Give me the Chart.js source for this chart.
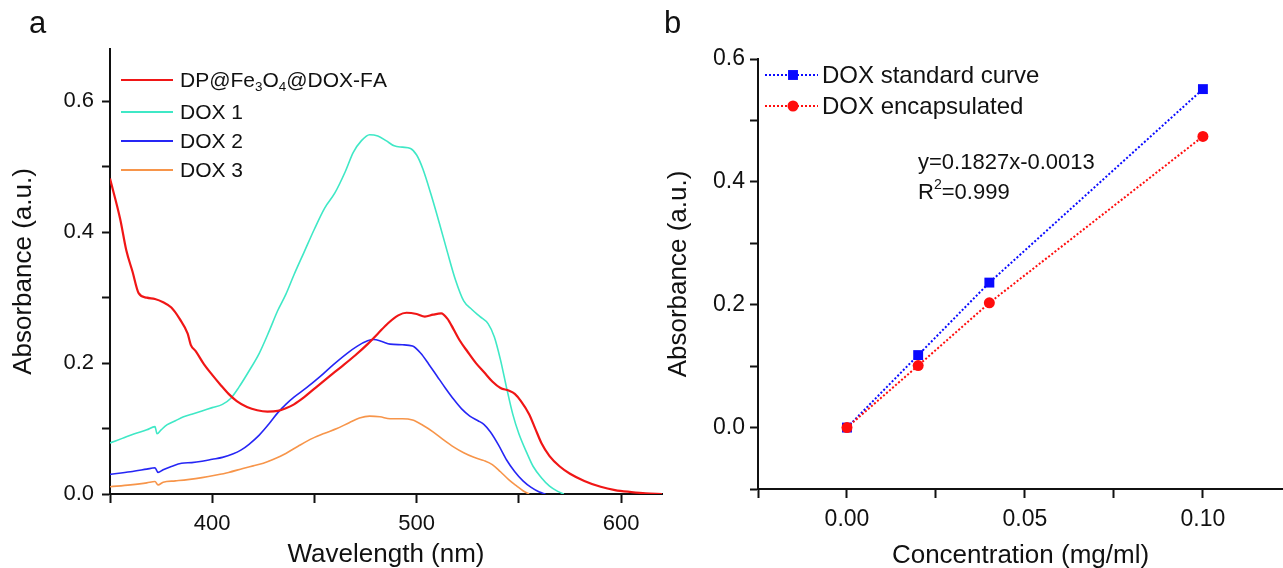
<!DOCTYPE html>
<html>
<head>
<meta charset="utf-8">
<script src="https://cdn.jsdelivr.net/npm/chart.js@4.4.1/dist/chart.umd.min.js"></script>
<style>
    html, body { margin: 0; padding: 0; background: #fff; }
    body { width: 1283px; height: 568px; position: relative; overflow: hidden; }
    .panel { position: absolute; top: 0; height: 568px; }
    #panelA { left: 0; width: 680px; }
    #panelB { left: 640px; width: 650px; }
</style>
</head>
<body>
<div class="panel" id="panelA"><canvas id="chartA"></canvas></div>
<div class="panel" id="panelB"><canvas id="chartB"></canvas></div>
<script>
// ---- panel a: UV-vis spectra ----
const seriesNamesA = ['DP@Fe_3O_4@DOX-FA', 'DOX 1', 'DOX 2', 'DOX 3'];
const seriesColorsA = ['#f01616', '#3fe8c6', '#2626f5', '#f7954a'];

const wlFA = [350, 355, 358, 361, 364, 368, 372, 376, 380, 384, 388, 389.5, 392, 396, 400, 404, 408, 412, 417, 422, 427, 432, 436, 440, 445, 450, 457, 463, 470, 476, 481, 486, 491, 495, 500, 504, 508, 512, 515, 518, 521, 525, 529, 533, 537, 541, 545, 548, 551, 555, 558, 561, 565, 570, 575, 582, 590, 597, 605, 612, 620];
const absFA = [0.482, 0.420, 0.372, 0.340, 0.307, 0.300, 0.298, 0.293, 0.285, 0.268, 0.245, 0.228, 0.218, 0.198, 0.182, 0.167, 0.153, 0.142, 0.133, 0.128, 0.126, 0.127, 0.131, 0.137, 0.148, 0.161, 0.179, 0.194, 0.212, 0.229, 0.245, 0.261, 0.273, 0.277, 0.275, 0.271, 0.274, 0.276, 0.268, 0.252, 0.235, 0.217, 0.200, 0.186, 0.172, 0.162, 0.158, 0.153, 0.142, 0.122, 0.100, 0.078, 0.058, 0.042, 0.031, 0.020, 0.011, 0.006, 0.003, 0.001, 0.000];

const wlDox1 = [350, 356, 362, 368, 372, 373, 375, 378, 382, 386, 390, 395, 400, 405, 409, 413, 418, 423, 428, 432, 436, 440, 445, 450, 455, 460, 465, 469, 473, 477, 481, 485, 489, 493, 497, 500, 503, 507, 511, 515, 519, 523, 527, 531, 535, 538, 541, 544, 547, 550, 554, 557, 561, 565, 569, 572];
const absDox1 = [0.078, 0.085, 0.092, 0.098, 0.103, 0.092, 0.098, 0.106, 0.112, 0.118, 0.122, 0.127, 0.132, 0.137, 0.146, 0.163, 0.188, 0.215, 0.250, 0.280, 0.305, 0.335, 0.370, 0.405, 0.437, 0.460, 0.492, 0.522, 0.540, 0.549, 0.547, 0.540, 0.532, 0.530, 0.528, 0.518, 0.497, 0.458, 0.415, 0.370, 0.327, 0.295, 0.282, 0.271, 0.260, 0.240, 0.205, 0.162, 0.122, 0.092, 0.062, 0.042, 0.025, 0.012, 0.004, 0.000];

const wlDox2 = [350, 360, 368, 372, 373.5, 376, 380, 385, 390, 395, 400, 405, 410, 414, 418, 423, 428, 432, 436, 440, 446, 453, 459, 466, 471, 476, 479, 483, 487, 493, 498, 502, 506, 510, 514, 518, 522, 526, 530, 533, 536, 540, 544, 548, 552, 556, 560, 563];
const absDox2 = [0.030, 0.034, 0.038, 0.040, 0.033, 0.037, 0.042, 0.047, 0.048, 0.050, 0.053, 0.056, 0.061, 0.067, 0.076, 0.090, 0.108, 0.124, 0.137, 0.148, 0.162, 0.180, 0.197, 0.215, 0.226, 0.234, 0.236, 0.233, 0.229, 0.228, 0.226, 0.215, 0.198, 0.180, 0.162, 0.145, 0.130, 0.119, 0.112, 0.106, 0.095, 0.075, 0.052, 0.034, 0.020, 0.010, 0.003, 0.000];

const wlDox3 = [350, 360, 368, 372, 373.5, 376, 382, 388, 395, 402, 408, 415, 420, 425, 430, 436, 442, 449, 455, 461, 467, 472, 477, 482, 487, 493, 498, 503, 508, 513, 518, 523, 528, 533, 537, 541, 545, 549, 552, 555];
const absDox3 = [0.011, 0.014, 0.017, 0.019, 0.014, 0.018, 0.020, 0.022, 0.025, 0.029, 0.033, 0.039, 0.043, 0.047, 0.053, 0.062, 0.073, 0.085, 0.093, 0.100, 0.109, 0.116, 0.119, 0.118, 0.115, 0.115, 0.113, 0.105, 0.095, 0.083, 0.072, 0.063, 0.056, 0.051, 0.045, 0.034, 0.022, 0.012, 0.005, 0.000];

// ---- panel b: calibration ----
const seriesNamesB = ['DOX standard curve', 'DOX encapsulated'];
const seriesColorsB = ['#0a0aff', '#ff0d0d'];
const concStd = [0, 0.02, 0.04, 0.1];
const absStd = [0, 0.118, 0.236, 0.551];
const concEnc = [0, 0.02, 0.04, 0.1];
const absEnc = [0, 0.101, 0.203, 0.474];
const fitText = ['y=0.1827x-0.0013', 'R^2=0.999'];

const FONT = '"Liberation Sans", Arial, sans-serif';

function toPoints(xs, ys) {
    return xs.map((x, i) => ({ x: x, y: ys[i] }));
}

function isMajor(v, step) {
    const r = v / step;
    return Math.abs(r - Math.round(r)) < 1e-6;
}

// draws text with _x subscripts and ^x superscripts
function drawRich(ctx, text, x, y, size) {
    let cx = x;
    for (let i = 0; i < text.length; i++) {
        let ch = text[i];
        let dy = 0, sz = size;
        if ((ch === '_' || ch === '^') && i + 1 < text.length) {
            dy = ch === '_' ? size * 0.3 : -size * 0.38;
            sz = size * 0.64;
            ch = text[++i];
        }
        ctx.font = sz + 'px ' + FONT;
        ctx.fillText(ch, cx, y + dy);
        cx += ctx.measureText(ch).width;
    }
}

function axisBase(min, max, step, major, digits, font, tickLen, pad) {
    return {
        type: 'linear',
        min: min,
        max: max,
        border: { display: true, color: '#111', width: 2 },
        grid: { display: true, drawOnChartArea: false, drawTicks: true, tickLength: tickLen, tickColor: '#111', tickWidth: 2 },
        ticks: {
            stepSize: step,
            includeBounds: false,
            autoSkip: false,
            maxRotation: 0,
            padding: pad,
            color: '#111',
            font: { family: FONT, size: font },
            callback: v => {
                if (!isMajor(v, major)) return '';
                return (Math.abs(v) < 1e-9 ? 0 : v).toFixed(digits);
            }
        }
    };
}

const overlayA = {
    id: 'overlayA',
    afterDraw(chart) {
        const ctx = chart.ctx;
        ctx.save();
        ctx.fillStyle = '#111';
        ctx.textBaseline = 'alphabetic';
        ctx.font = '31px ' + FONT;
        ctx.fillText('a', 29, 33);

        const rows = [80, 112, 141, 170];
        ctx.textBaseline = 'middle';
        seriesNamesA.forEach((name, i) => {
            ctx.strokeStyle = seriesColorsA[i];
            ctx.lineWidth = 2;
            ctx.beginPath();
            ctx.moveTo(121, rows[i]);
            ctx.lineTo(173, rows[i]);
            ctx.stroke();
            ctx.fillStyle = '#111';
            drawRich(ctx, name, 180, rows[i] + 1, 21);
        });
        ctx.restore();
    }
};

const overlayB = {
    id: 'overlayB',
    afterDraw(chart) {
        const ctx = chart.ctx;
        ctx.save();
        ctx.fillStyle = '#111';
        ctx.textBaseline = 'alphabetic';
        ctx.font = '31px ' + FONT;
        ctx.fillText('b', 24, 33);

        const rows = [75, 106];
        const styles = ['rect', 'circle'];
        ctx.textBaseline = 'middle';
        seriesNamesB.forEach((name, i) => {
            ctx.strokeStyle = seriesColorsB[i];
            ctx.lineWidth = 2;
            ctx.setLineDash([2, 2]);
            ctx.beginPath();
            ctx.moveTo(125, rows[i]);
            ctx.lineTo(178, rows[i]);
            ctx.stroke();
            ctx.setLineDash([]);
            ctx.fillStyle = seriesColorsB[i];
            Chart.helpers.drawPoint(ctx, { pointStyle: styles[i], radius: styles[i] === 'rect' ? 7 : 5.5, borderWidth: 0 }, 153, rows[i]);
            ctx.fillStyle = '#111';
            drawRich(ctx, name, 182, rows[i] + 1, 24);
        });

        fitText.forEach((t, i) => drawRich(ctx, t, 278, 163 + i * 30, 22));
        ctx.restore();
    }
};

// panel a chart
const yA = axisBase(0, 0.68, 0.1, 0.2, 1, 22, 8, 8);
yA.afterFit = s => { s.width = 110; };
yA.title = { display: true, text: 'Absorbance (a.u.)', color: '#111', font: { family: FONT, size: 26, lineHeight: 1 }, padding: { top: 11, bottom: 0 } };
const xA = axisBase(350, 620, 50, 100, 0, 22, 9, 8);
xA.afterFit = s => { s.height = 74; };
xA.title = { display: true, text: 'Wavelength (nm)', color: '#111', font: { family: FONT, size: 26, lineHeight: 1 }, padding: { top: 0, bottom: 0 } };

const spectra = [
    toPoints(wlFA, absFA),
    toPoints(wlDox1, absDox1),
    toPoints(wlDox2, absDox2),
    toPoints(wlDox3, absDox3)
];

new Chart(document.getElementById('chartA'), {
    type: 'line',
    data: {
        datasets: spectra.map((pts, i) => ({
            label: seriesNamesA[i],
            data: pts,
            borderColor: seriesColorsA[i],
            borderWidth: i === 0 ? 2.2 : 1.6,
            pointRadius: 0,
            cubicInterpolationMode: 'monotone',
            fill: false
        }))
    },
    options: {
        responsive: true,
        maintainAspectRatio: false,
        animation: false,
        layout: { padding: { top: 49, right: 18, bottom: 0, left: 0 } },
        plugins: { legend: { display: false }, tooltip: { enabled: false } },
        scales: { x: xA, y: yA }
    },
    plugins: [overlayA]
});

// panel b chart
const yB = axisBase(-0.1, 0.6, 0.1, 0.2, 1, 23, 8, 5);
yB.afterFit = s => { s.width = 118; };
yB.title = { display: true, text: 'Absorbance (a.u.)', color: '#111', font: { family: FONT, size: 26, lineHeight: 1 }, padding: { top: 26, bottom: 0 } };
const xB = axisBase(-0.025, 0.1225, 0.025, 0.05, 2, 23, 9, 8);
xB.afterFit = s => { s.height = 79; };
xB.title = { display: true, text: 'Concentration (mg/ml)', color: '#111', font: { family: FONT, size: 26, lineHeight: 1 }, padding: { top: 0, bottom: -1 } };

new Chart(document.getElementById('chartB'), {
    type: 'scatter',
    data: {
        datasets: [
            {
                label: seriesNamesB[0],
                data: toPoints(concStd, absStd),
                showLine: true,
                borderColor: seriesColorsB[0],
                backgroundColor: seriesColorsB[0],
                borderWidth: 2,
                borderDash: [2, 2],
                pointStyle: 'rect',
                pointRadius: 7,
                pointBorderWidth: 0,
                order: 1
            },
            {
                label: seriesNamesB[1],
                data: toPoints(concEnc, absEnc),
                showLine: true,
                borderColor: seriesColorsB[1],
                backgroundColor: seriesColorsB[1],
                borderWidth: 2,
                borderDash: [2, 2],
                pointStyle: 'circle',
                pointRadius: 5.5,
                pointBorderWidth: 0,
                order: 0
            }
        ]
    },
    options: {
        responsive: true,
        maintainAspectRatio: false,
        animation: false,
        layout: { padding: { top: 59, right: 0, bottom: 0, left: 0 } },
        plugins: { legend: { display: false }, tooltip: { enabled: false } },
        scales: { x: xB, y: yB }
    },
    plugins: [overlayB]
});
</script>
</body>
</html>
